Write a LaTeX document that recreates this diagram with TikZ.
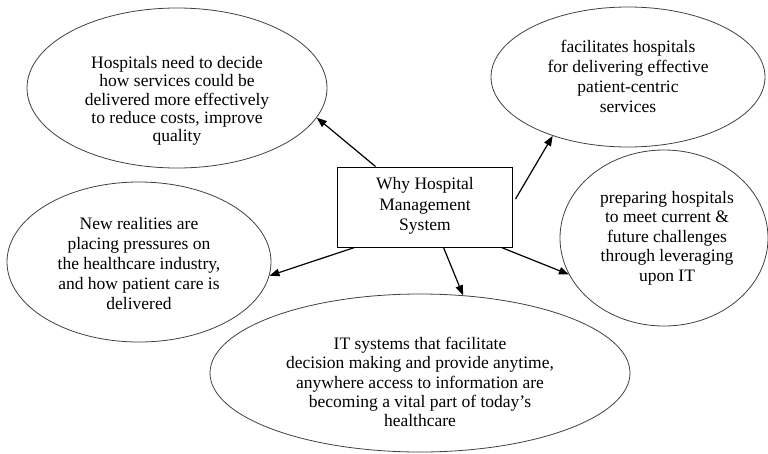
\documentclass[tikz,border=0pt]{standalone}
\usepackage{fontspec}
\setmainfont{Liberation Serif}
\usetikzlibrary{shapes.geometric,arrows.meta,calc}
\begin{document}
\begin{tikzpicture}[x=1pt,y=-1pt,
  bubble/.style={ellipse,draw=black!75,line width=0.8pt,inner sep=0pt},
  txt/.style={align=center,inner sep=0pt,font=\fontsize{17.5}{#1}\selectfont},
  txt/.default=19.5,
  arr/.style={line width=1.2pt,-{Triangle[length=10pt,width=7.5pt]}},
  hbox/.style={draw,line width=1pt,minimum width=175pt,minimum height=80pt,inner sep=0pt}]
\useasboundingbox (0,0) rectangle (768,453);
% ellipses
\node[bubble,minimum width=300pt,minimum height=160pt] (tl) at (177,88) {};
\node[bubble,minimum width=274pt,minimum height=140pt] (tr) at (628,77) {};
\node[bubble,minimum width=208pt,minimum height=176pt] (rt) at (664,238) {};
\node[bubble,minimum width=264pt,minimum height=160pt] (lf) at (139,262) {};
\node[bubble,minimum width=420pt,minimum height=158pt] (bt) at (420,373) {};
% centre box
\node[hbox] (box) at (424.5,207) {};
% texts
\node[txt=18.3] (ttl) at (177,101) {Hospitals need to decide\\how services could be\\delivered more effectively\\to reduce costs, improve\\quality};
\node[txt=20] (ttr) at (628,76) {facilitates hospitals\\for delivering effective\\patient-centric\\services};
\node[txt=19.6] (trt) at (667,238) {preparing hospitals\\to meet current \&\\future challenges\\through leveraging\\upon IT};
\node[txt=20] (tlf) at (139,264) {New realities are\\placing pressures on\\the healthcare industry,\\and how patient care is\\delivered};
\node[txt=19.25] (tbt) at (420,382) {IT systems that facilitate\\decision making and provide anytime,\\anywhere access to information are\\becoming a vital part of today’s\\healthcare};
\node[txt=20.5] (tbox) at (425,206) {Why Hospital\\Management\\System};
% connectors
\coordinate (s1) at ($(box.north west)+(39,0)$);
\coordinate (s2) at ($(box.east)+(3,-8)$);
\coordinate (s3) at ($(box.south west)+(18,0)$);
\coordinate (s4) at ($(box.south west)+(107,0)$);
\coordinate (s5) at ($(box.south west)+(165,0)$);
\draw[arr] (s1) -- (tl.-12.8);
\draw[arr] (s2) -- (tr.218.3);
\draw[arr] (s3) -- (lf.-6.9);
\draw[arr] (s4) -- (bt.61.7);
\draw[arr] (s5) -- (rt.201.9);
\end{tikzpicture}
\end{document}
